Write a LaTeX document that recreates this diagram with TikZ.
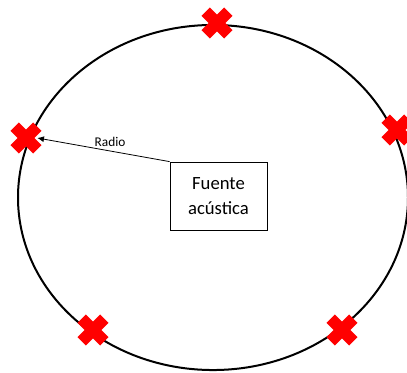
\documentclass[tikz,border=0pt]{standalone}
\usepackage{fontspec}
\setmainfont{Carlito}
\usetikzlibrary{positioning,shapes.misc,arrows.meta}
\tikzstyle{mic} = [cross out, draw=red, line width=9pt, minimum size=17pt, inner sep=0pt, outer sep=0pt]
\tikzstyle{block} = [draw, fill=white, rectangle, line width=0.6pt, minimum height=51pt, minimum width=72.75pt, align=center, font=\fontsize{14}{19}\selectfont]
\tikzstyle{ring} = [line width=1.5pt]

\begin{document}
\begin{tikzpicture}[x=0.75pt, y=-0.75pt]
        \useasboundingbox (0,0) rectangle (407,372);
        \coordinate (centro) at (213,197.5);
        \draw [ring] (centro) ellipse [x radius=146.25pt, y radius=129.4pt];

        \node [mic] (m1) at (26,138) {};
        \node [mic] (m2) at (217,23) {};
        \node [mic] (m3) at (397,130) {};
        \node [mic] (m4) at (93,330) {};
        \node [mic] (m5) at (342,330) {};

        \node [block] (fuente) at (218.5,196) {Fuente\\acústica};

        \draw [-{Latex[length=5pt,width=4.5pt]}, line width=0.6pt] (fuente.north west) -- node [pos=0.45, above, font=\fontsize{10}{12}\selectfont] {Radio} (m1.east);
    \end{tikzpicture}
\end{document}
